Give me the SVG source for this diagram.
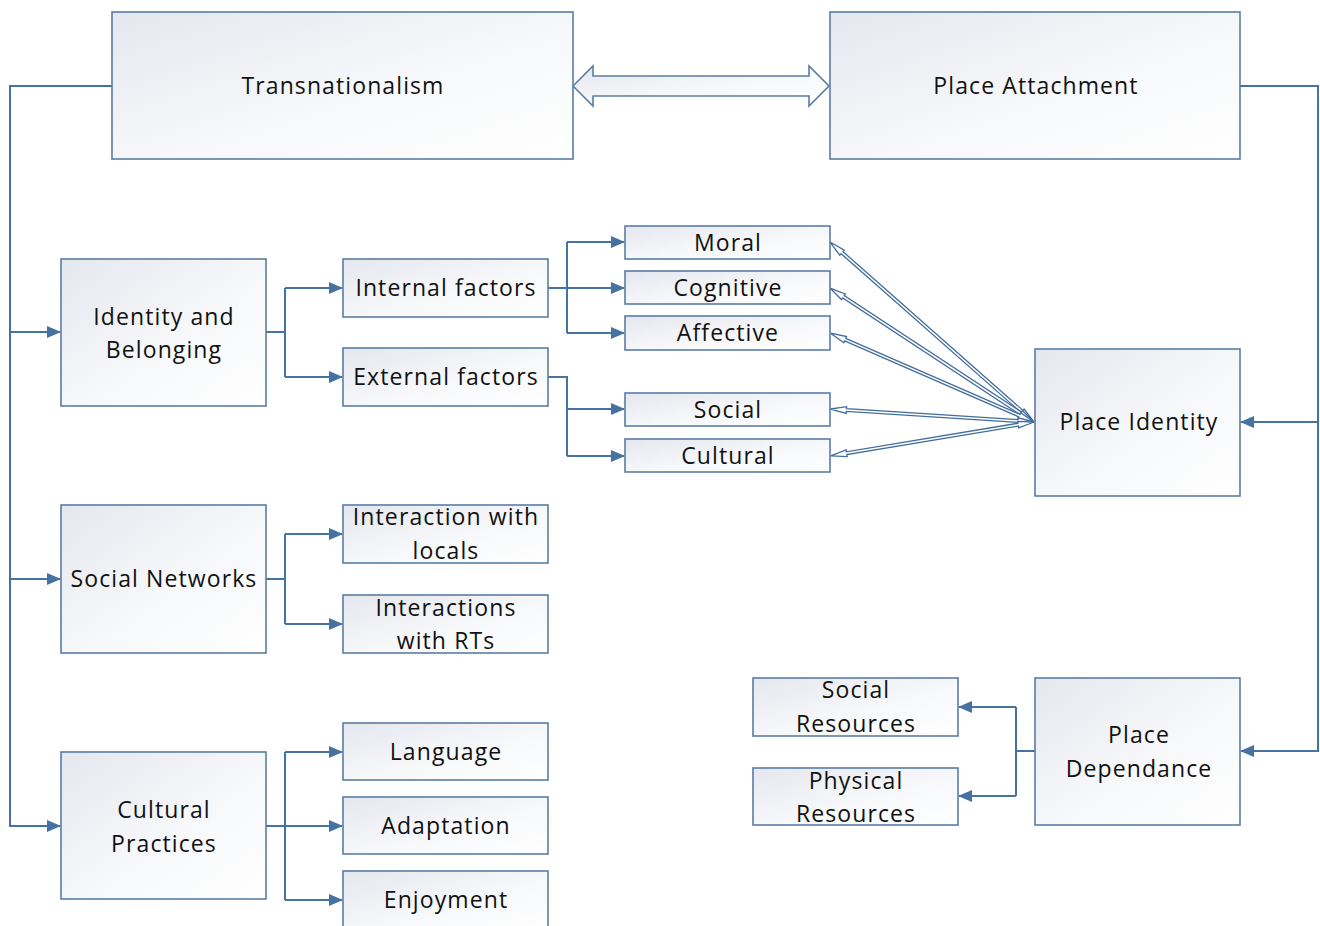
<svg xmlns="http://www.w3.org/2000/svg" width="1320" height="926" viewBox="0 0 1320 926">
<defs>
<linearGradient id="bg" x1="0" y1="0" x2="1" y2="1">
<stop offset="0" stop-color="#e4e7ee"/>
<stop offset="0.55" stop-color="#f7f8fa"/>
<stop offset="1" stop-color="#ffffff"/>
</linearGradient>
<marker id="ah" markerUnits="userSpaceOnUse" markerWidth="14" markerHeight="12" viewBox="0 0 14 12" refX="13" refY="6" orient="auto">
<path d="M0,0 L14,6 L0,12 Z" fill="#4672a3"/>
</marker>
<style>
.box{fill:url(#bg);stroke:#5a7da5;stroke-width:1.6}
.t{font-family:"Open Sans","Liberation Sans",sans-serif;font-size:23px;letter-spacing:1.1px;fill:#111;text-anchor:middle}
.c{fill:none;stroke:#4672a3;stroke-width:2}
.ca{fill:none;stroke:#4672a3;stroke-width:2;marker-end:url(#ah)}
.fan{fill:#ffffff;stroke:#426d9c;stroke-width:1.3;stroke-linejoin:miter}
.dbl{fill:url(#bg);stroke:#5a7da5;stroke-width:1.6}
</style>
</defs>
<rect width="1320" height="926" fill="#ffffff"/>

<g id="connectors">
<polygon class="dbl" points="573,86 593,66 593,76 809,76 809,66 829,86 809,106 809,96 593,96 593,106"/>
<path class="ca" d="M112,86 H10 V826 H60"/>
<path class="ca" d="M10,332 H60"/>
<path class="ca" d="M10,579 H60"/>
<path class="ca" d="M1240,86 H1318 V751 H1241"/>
<path class="ca" d="M1318,422 H1241"/>
<path class="c" d="M266,332 H285 M285,288 V377"/>
<path class="ca" d="M285,288 H342"/>
<path class="ca" d="M285,377 H342"/>
<path class="c" d="M548,288 H567 M567,242 V333"/>
<path class="ca" d="M567,242 H624"/>
<path class="ca" d="M567,288 H624"/>
<path class="ca" d="M567,333 H624"/>
<path class="c" d="M548,377 H567 V456"/>
<path class="ca" d="M567,409 H624"/>
<path class="ca" d="M567,456 H624"/>
<path class="c" d="M266,579 H285 M285,534 V624"/>
<path class="ca" d="M285,534 H342"/>
<path class="ca" d="M285,624 H342"/>
<path class="c" d="M266,826 H285 M285,752 V900"/>
<path class="ca" d="M285,752 H342"/>
<path class="ca" d="M285,826 H342"/>
<path class="ca" d="M285,900 H342"/>
<path class="c" d="M1035,751 H1016 M1016,707 V796"/>
<path class="ca" d="M1016,707 H959"/>
<path class="ca" d="M1016,796 H959"/>
<polygon class="fan" transform="translate(1034,422) rotate(-138.58)" points="0,0 16,-3.2 16,-1.4 256,-1.4 256,-3.4 272,0 256,3.4 256,1.4 16,1.4 16,3.2"/>
<polygon class="fan" transform="translate(1034,422) rotate(-146.70)" points="0,0 16,-3.2 16,-1.4 228,-1.4 228,-3.4 244,0 228,3.4 228,1.4 16,1.4 16,3.2"/>
<polygon class="fan" transform="translate(1034,422) rotate(-156.43)" points="0,0 16,-3.2 16,-1.4 206,-1.4 206,-3.4 222,0 206,3.4 206,1.4 16,1.4 16,3.2"/>
<polygon class="fan" transform="translate(1034,422) rotate(-176.35)" points="0,0 16,-3.2 16,-1.4 188,-1.4 188,-3.4 204,0 188,3.4 188,1.4 16,1.4 16,3.2"/>
<polygon class="fan" transform="translate(1034,422) rotate(170.54)" points="0,0 16,-3.2 16,-1.4 190,-1.4 190,-3.4 206,0 190,3.4 190,1.4 16,1.4 16,3.2"/>
</g>

<g id="transnationalism"><rect class="box" x="112" y="12" width="461" height="147"/><text class="t" x="343" y="94">Transnationalism</text></g>
<g id="place-attachment"><rect class="box" x="830" y="12" width="410" height="147"/><text class="t" x="1036" y="94">Place Attachment</text></g>

<g id="identity-belonging"><rect class="box" x="61" y="259" width="205" height="147"/><text class="t" x="164" y="325">Identity and</text><text class="t" x="164" y="358">Belonging</text></g>
<g id="social-networks"><rect class="box" x="61" y="505" width="205" height="148"/><text class="t" x="164" y="587">Social Networks</text></g>
<g id="cultural-practices"><rect class="box" x="61" y="752" width="205" height="147"/><text class="t" x="164" y="818">Cultural</text><text class="t" x="164" y="852">Practices</text></g>

<g id="internal-factors"><rect class="box" x="343" y="259" width="205" height="58"/><text class="t" x="446" y="296">Internal factors</text></g>
<g id="external-factors"><rect class="box" x="343" y="348" width="205" height="58"/><text class="t" x="446" y="385">External factors</text></g>

<g id="moral"><rect class="box" x="625" y="226" width="205" height="33"/><text class="t" x="728" y="251">Moral</text></g>
<g id="cognitive"><rect class="box" x="625" y="271" width="205" height="33"/><text class="t" x="728" y="296">Cognitive</text></g>
<g id="affective"><rect class="box" x="625" y="316" width="205" height="34"/><text class="t" x="728" y="341">Affective</text></g>
<g id="social"><rect class="box" x="625" y="393" width="205" height="33"/><text class="t" x="728" y="418">Social</text></g>
<g id="cultural"><rect class="box" x="625" y="439" width="205" height="33"/><text class="t" x="728" y="464">Cultural</text></g>

<g id="place-identity"><rect class="box" x="1035" y="349" width="205" height="147"/><text class="t" x="1139" y="430">Place Identity</text></g>

<g id="interaction-locals"><rect class="box" x="343" y="505" width="205" height="58"/><text class="t" x="446" y="525">Interaction with</text><text class="t" x="446" y="559">locals</text></g>
<g id="interactions-rts"><rect class="box" x="343" y="595" width="205" height="58"/><text class="t" x="446" y="616">Interactions</text><text class="t" x="446" y="649">with RTs</text></g>

<g id="language"><rect class="box" x="343" y="723" width="205" height="57"/><text class="t" x="446" y="760">Language</text></g>
<g id="adaptation"><rect class="box" x="343" y="797" width="205" height="57"/><text class="t" x="446" y="834">Adaptation</text></g>
<g id="enjoyment"><rect class="box" x="343" y="871" width="205" height="60"/><text class="t" x="446" y="908">Enjoyment</text></g>

<g id="place-dependance"><rect class="box" x="1035" y="678" width="205" height="147"/><text class="t" x="1139" y="743">Place</text><text class="t" x="1139" y="777">Dependance</text></g>
<g id="social-resources"><rect class="box" x="753" y="678" width="205" height="58"/><text class="t" x="856" y="698">Social</text><text class="t" x="856" y="732">Resources</text></g>
<g id="physical-resources"><rect class="box" x="753" y="768" width="205" height="57"/><text class="t" x="856" y="789">Physical</text><text class="t" x="856" y="822">Resources</text></g>
</svg>
